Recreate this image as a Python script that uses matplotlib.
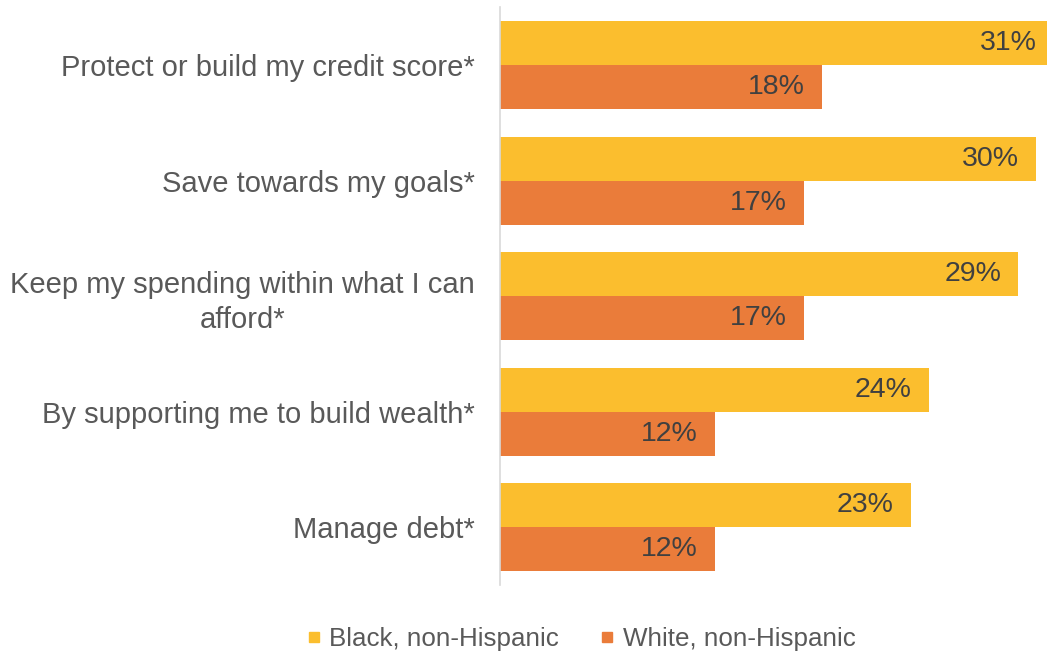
import matplotlib.pyplot as plt
from matplotlib.lines import Line2D

plt.rcParams['font.family'] = ['Liberation Sans', 'DejaVu Sans']

categories = [
    "Protect or build my credit score*",
    "Save towards my goals*",
    "Keep my spending within what I can\nafford*",
    "By supporting me to build wealth*",
    "Manage debt*",
]
black_pct = [31, 30, 29, 24, 23]
white_pct = [18, 17, 17, 12, 12]
series_names = ["Black, non-Hispanic", "White, non-Hispanic"]

yellow = "#FBBE2E"
orange = "#EA7C3A"
label_gray = "#595959"
value_gray = "#404040"

fig = plt.figure(figsize=(10.47, 6.56), dpi=100)
ax = fig.add_axes([0.4776, 0.108, 0.5224, 0.881])

pos = list(range(len(categories)))
h = 0.38
ax.barh([p - h / 2 for p in pos], black_pct, height=h, color=yellow)
ax.barh([p + h / 2 for p in pos], white_pct, height=h, color=orange)

# value labels sit just inside the end of each bar
for p, v in zip(pos, black_pct):
    ax.annotate(f"{v}%", xy=(v, p - h / 2), xytext=(-12.5, 0), textcoords="offset points",
                ha="right", va="center", fontsize=20.5, color=value_gray,
                annotation_clip=False)
for p, v in zip(pos, white_pct):
    ax.annotate(f"{v}%", xy=(v, p + h / 2), xytext=(-12.5, 0), textcoords="offset points",
                ha="right", va="center", fontsize=20.5, color=value_gray,
                annotation_clip=False)

ax.set_xlim(0, 30.6)
ax.set_ylim(len(categories) - 0.5, -0.5)
ax.set_yticks(pos)
ax.set_yticklabels(categories, fontsize=21, color=label_gray,
                   multialignment="center", linespacing=1.3)
ax.tick_params(axis="y", length=0, pad=18)
ax.set_xticks([])

for s in ["top", "right", "bottom"]:
    ax.spines[s].set_visible(False)
ax.spines["left"].set_color("#d9d9d9")
ax.spines["left"].set_linewidth(1.2)

handles = [Line2D([], [], marker="s", linestyle="none", markersize=7, color=c)
           for c in (yellow, orange)]
fig.legend(handles, series_names, loc="center", bbox_to_anchor=(0.5545, 0.026),
           ncol=2, frameon=False, fontsize=18.7, labelcolor=label_gray,
           handletextpad=0.3, columnspacing=1.55, handlelength=0.6)

fig.savefig("out.png", dpi=100)
